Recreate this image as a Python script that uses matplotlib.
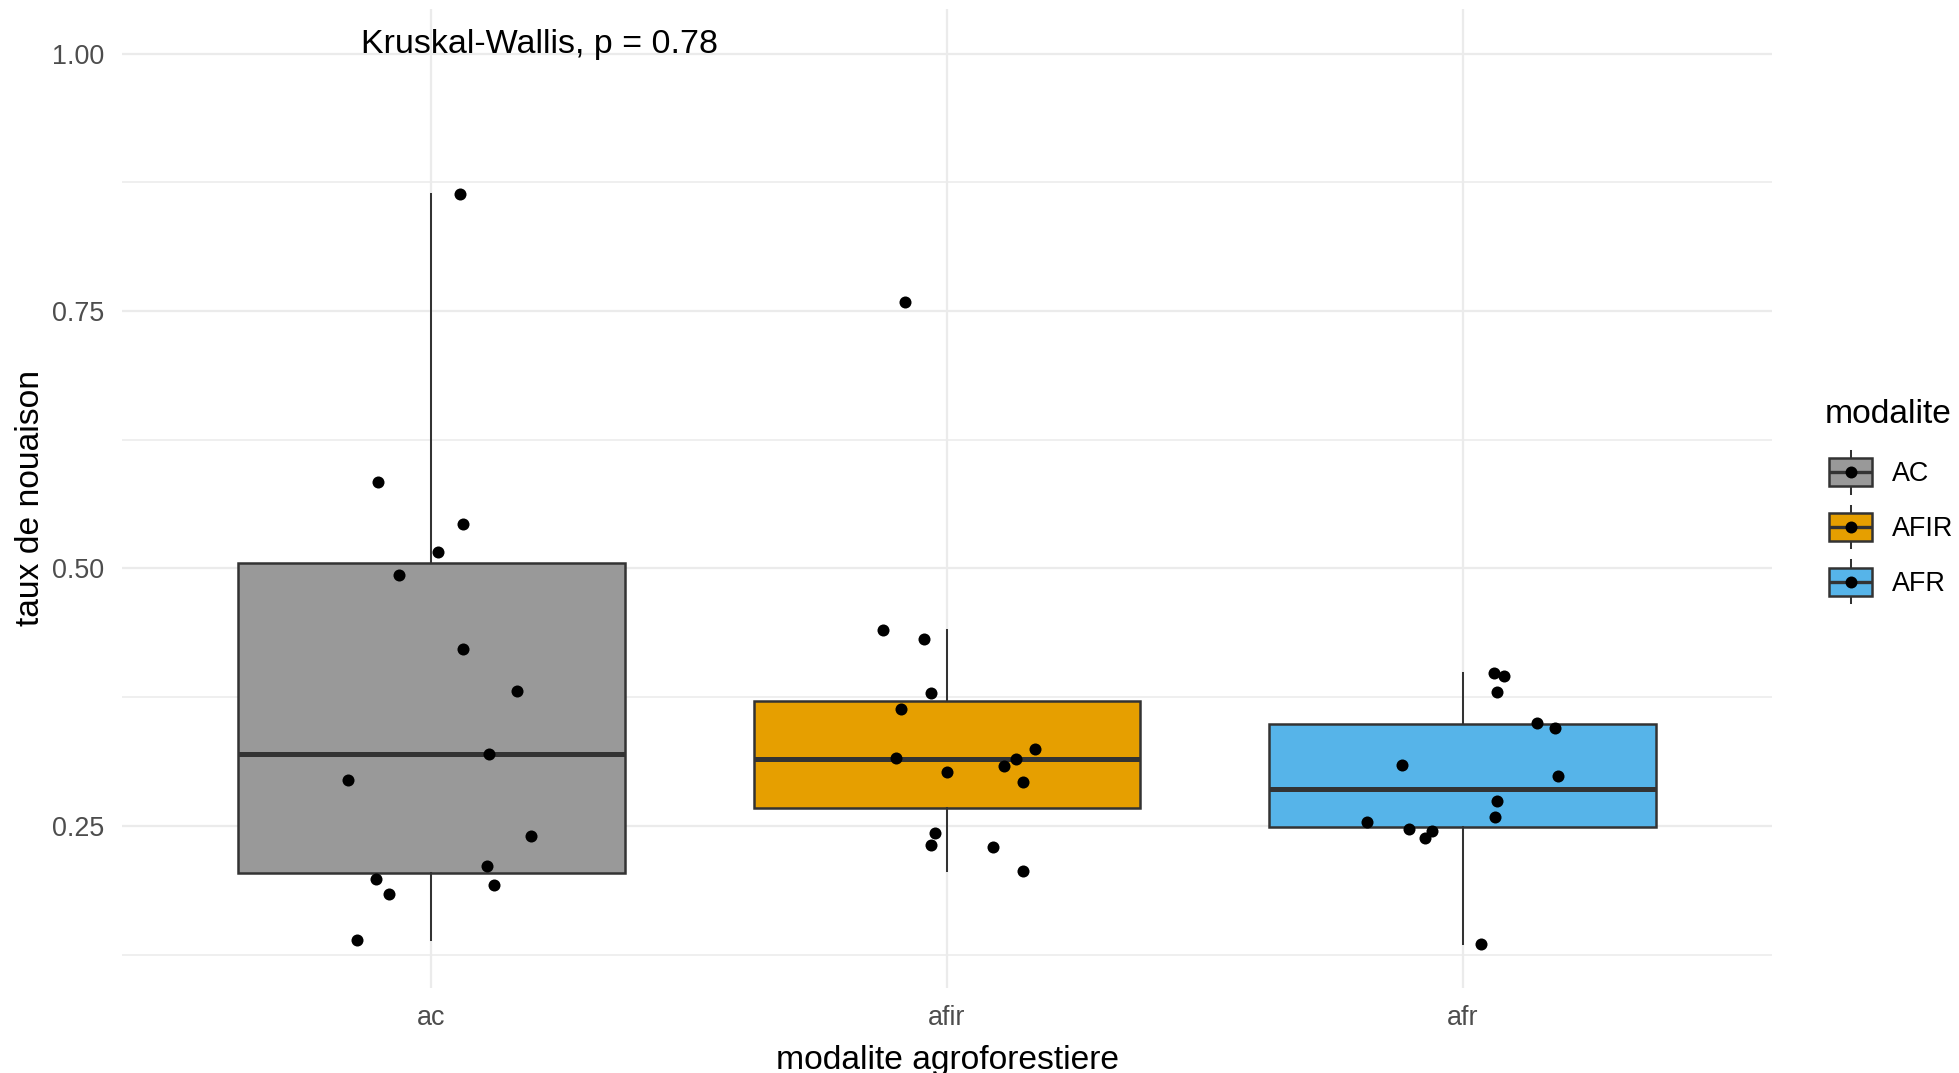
import matplotlib
matplotlib.use("Agg")
import matplotlib.pyplot as plt
from matplotlib.legend_handler import HandlerBase
from matplotlib.patches import Patch, Rectangle
from matplotlib.lines import Line2D
from matplotlib.ticker import MultipleLocator, FormatStrFormatter
import numpy as np

plt.rcParams['font.family'] = ['Liberation Sans', 'DejaVu Sans']

# groups on the x axis and legend entries
groups = ["ac", "afir", "afr"]
legend_labels = ["AC", "AFIR", "AFR"]
colors = ["#999999", "#E69F00", "#56B4E9"]

# taux de nouaison per plot
ac_vals = [0.864, 0.584, 0.5435, 0.516, 0.4936, 0.4215, 0.3805, 0.3195,
           0.295, 0.2405, 0.211, 0.198, 0.1926, 0.1836, 0.139]
afir_vals = [0.759, 0.440, 0.431, 0.379, 0.3633, 0.3246, 0.3157, 0.3153,
             0.3085, 0.302, 0.2927, 0.2427, 0.2315, 0.2294, 0.2065]
afr_vals = [0.3985, 0.3952, 0.3799, 0.350, 0.3453, 0.309, 0.298, 0.2745,
            0.2588, 0.2542, 0.2474, 0.2451, 0.2379, 0.1358]

# horizontal jitter of each point (same order as values)
ac_jitter = [0.056, -0.104, 0.062, 0.013, -0.063, 0.062, 0.166, 0.112,
             -0.162, 0.193, 0.108, -0.108, 0.121, -0.082, -0.144]
afir_jitter = [-0.081, -0.125, -0.045, -0.031, -0.090, 0.171, -0.099, 0.134,
               0.111, 0.0, 0.148, -0.023, -0.032, 0.089, 0.148]
afr_jitter = [0.061, 0.080, 0.067, 0.144, 0.180, -0.117, 0.184, 0.067,
              0.062, -0.185, -0.104, -0.059, -0.073, 0.036]

test_label = "Kruskal-Wallis, p = 0.78"
label_y = 1.0

edge = "#333333"
grid_col = "#EBEBEB"
tick_col = "#4D4D4D"


class BoxKey(HandlerBase):
    # ggplot-like boxplot legend key
    def create_artists(self, legend, orig_handle, xdescent, ydescent,
                       width, height, fontsize, trans):
        x0 = -xdescent
        cx = x0 + width / 2
        cy = -ydescent + height / 2
        bh = height * 0.9
        whisk = Line2D([cx, cx], [cy - height * 0.69, cy + height * 0.69],
                       color=edge, lw=1.45, transform=trans)
        rect = Rectangle((x0, cy - bh / 2), width, bh,
                         facecolor=orig_handle.get_facecolor(),
                         edgecolor=edge, lw=1.8, transform=trans)
        med = Line2D([x0, x0 + width], [cy, cy], color=edge, lw=2.4,
                     solid_capstyle="butt", transform=trans)
        dot = Line2D([cx], [cy], marker="o", ms=8.6, color="black",
                     markeredgewidth=0, transform=trans)
        return [whisk, rect, med, dot]


fig, ax = plt.subplots(figsize=(19.59, 10.73), dpi=100)
fig.subplots_adjust(left=122 / 1959, right=1772 / 1959,
                    bottom=1 - 988 / 1073, top=1 - 9 / 1073)

data = [ac_vals, afir_vals, afr_vals]
jit = [ac_jitter, afir_jitter, afr_jitter]
pos = np.arange(len(groups))

bp = ax.boxplot(data, positions=pos, widths=0.75, patch_artist=True,
                showfliers=False, showcaps=False, whis=1.5, zorder=2,
                boxprops=dict(edgecolor=edge, linewidth=1.8),
                whiskerprops=dict(color=edge, linewidth=1.45),
                medianprops=dict(color=edge, linewidth=3.6,
                                 solid_capstyle="butt"))
for patch, c in zip(bp["boxes"], colors):
    patch.set_facecolor(c)

for i, (vals, dx) in enumerate(zip(data, jit)):
    ax.scatter(i + np.array(dx), vals, s=75, color="black", linewidths=0,
               zorder=3)

ax.text(-0.137, label_y, test_label, fontsize=24.5, ha="left",
        va="baseline", color="black")

# scales (ggplot default expansion)
all_vals = np.concatenate([np.array(v) for v in data])
lo, hi = all_vals.min(), max(all_vals.max(), label_y)
span = hi - lo
ax.set_ylim(lo - 0.05 * span, hi + 0.05 * span)
ax.set_xlim(-0.6, len(groups) - 0.4)

ax.set_xticks(pos)
ax.set_xticklabels(groups)
ax.yaxis.set_major_locator(MultipleLocator(0.25))
ax.yaxis.set_minor_locator(MultipleLocator(0.125))
ax.yaxis.set_major_formatter(FormatStrFormatter("%.2f"))

ax.set_axisbelow(True)
ax.grid(which="major", color=grid_col, lw=1.6)
ax.grid(which="minor", axis="y", color=grid_col, lw=1.1)
for s in ax.spines.values():
    s.set_visible(False)
ax.tick_params(which="both", length=0, labelsize=19.4, labelcolor=tick_col)
ax.tick_params(axis="x", pad=12)
ax.tick_params(axis="y", pad=13)

ax.set_xlabel("modalite agroforestiere", fontsize=24.2, labelpad=10)
ax.set_ylabel("taux de nouaison", fontsize=24.2, labelpad=3.8)

# legend: title as its own text, keys below it
fig.text(1825 / 1959, 1 - 423 / 1073, "modalite", fontsize=24.2,
         ha="left", va="baseline", color="black")
handles = [Patch(facecolor=c, edgecolor=edge) for c in colors]
ax.legend(handles, legend_labels,
          handler_map={Patch: BoxKey()}, loc="center left",
          bbox_to_anchor=(1829 / 1959, 1 - 527 / 1073),
          bbox_transform=fig.transFigure, frameon=False,
          fontsize=19.4, handlelength=1.6,
          handleheight=1.4, labelspacing=0.87, handletextpad=0.74,
          borderpad=0, borderaxespad=0)

fig.savefig("out.png", dpi=100, facecolor="white")
